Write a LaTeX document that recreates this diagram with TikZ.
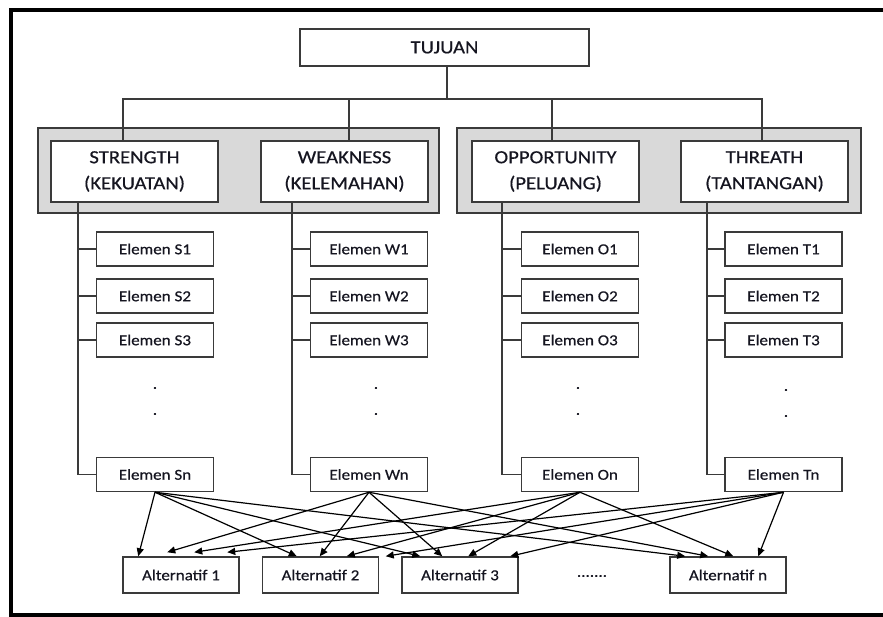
\documentclass[tikz,border=0pt]{standalone}
\usepackage{fontspec}
\setmainfont{Carlito}[FakeStretch=1.12,FakeBold=0.5]
\usetikzlibrary{arrows.meta,calc}
\definecolor{txt}{HTML}{151520}
\definecolor{ln}{HTML}{3A3A3A}
\definecolor{grayfill}{HTML}{D9D9D9}
\begin{document}
\begin{tikzpicture}[x=1pt,y=-1pt,
 box/.style={draw=ln,line width=1.5pt,fill=white,inner sep=0pt,text=txt},
 head/.style={box,minimum width=167pt,minimum height=61pt,align=center,font=\fontsize{18.5}{26}\selectfont},
 elem/.style={box,minimum width=117pt,minimum height=34pt,font=\fontsize{15.2}{18}\selectfont},
 alt/.style={box,minimum width=116pt,minimum height=36pt,font=\fontsize{15.2}{18}\selectfont},
 grp/.style={draw=ln,line width=1.5pt,fill=grayfill},
 conn/.style={draw=ln,line width=1.4pt},
 arr/.style={draw=black,line width=1.2pt,-{Triangle[length=8pt,width=7pt]}},
 dotnode/.style={text=txt,font=\fontsize{15.2}{18}\selectfont,inner sep=0pt}]
\useasboundingbox (0,0) rectangle (883,617);
% outer frame
\draw[line width=3.5pt] (890,10) -- (11,10) -- (11,615) -- (890,615);
% group panels
\draw[grp] (38,128) rectangle (439,213);
\draw[grp] (457,128) rectangle (861,213);
% goal
\node[box,minimum width=289pt,minimum height=37pt,font=\fontsize{18.5}{22}\selectfont] (goal) at (444.5,47.5) {TUJUAN};
% headers
\node[head] (S) at (134.5,171.5) {STRENGTH\\(KEKUATAN)};
\node[head] (W) at (344.5,171.5) {WEAKNESS\\(KELEMAHAN)};
\node[head] (O) at (555.5,171.5) {OPPORTUNITY\\(PELUANG)};
\node[head] (T) at (764.5,171.5) {THREATH\\(TANTANGAN)};
% elements
\foreach \c/\x in {S/155,W/369,O/580,T/783.5}{
  \node[elem] (\c1) at (\x,249) {Elemen \c1};
  \node[elem] (\c2) at (\x,296) {Elemen \c2};
  \node[elem] (\c3) at (\x,340) {Elemen \c3};
  \node[elem] (\c n) at (\x,474.5) {Elemen \c n};
}
\node[dotnode] (dS1) at (155,388) {.};
\node[dotnode] (dS2) at (155,414) {.};
\node[dotnode] (dW1) at (376,388) {.};
\node[dotnode] (dW2) at (376,414) {.};
\node[dotnode] (dO1) at (578,388) {.};
\node[dotnode] (dO2) at (578,414) {.};
\node[dotnode] (dT1) at (786,390) {.};
\node[dotnode] (dT2) at (786,416) {.};
% alternatives
\node[alt] (A1) at (181,575) {Alternatif 1};
\node[alt] (A2) at (320.5,575) {Alternatif 2};
\node[alt] (A3) at (460,575) {Alternatif 3};
\node[alt] (An) at (728,575) {Alternatif n};
\node[dotnode] (ell) at (592,576) {.......};
% top connectors
\coordinate (bus) at (447,99);
\coordinate (dxS) at (123,0);
\coordinate (dxW) at (349,0);
\coordinate (dxO) at (552,0);
\coordinate (dxT) at (762,0);
\draw[conn] (goal.south -| bus) -- (bus);
\draw[conn] (S.north -| dxS) -- (bus -| dxS) -- (bus -| dxT) -- (T.north -| dxT);
\draw[conn] (W.north -| dxW) -- (bus -| dxW);
\draw[conn] (O.north -| dxO) -- (bus -| dxO);
% vertical element connectors
\foreach \c/\x in {S/78,W/292,O/502,T/707}{
  \coordinate (v\c) at (\x,0);
  \draw[conn] (\c.south -| v\c) |- (\c n.west);
  \draw[conn] (\c1.west -| v\c) -- (\c1.west);
  \draw[conn] (\c2.west -| v\c) -- (\c2.west);
  \draw[conn] (\c3.west -| v\c) -- (\c3.west);
}
% arrows to alternatives
\draw[arr] (Sn.south) -- ($(A1.north west)+(16,0)$);
\draw[arr] (Wn.south) -- ($(A1.north west)+(45,-4)$);
\draw[arr] (On.south) -- ($(A1.north west)+(72,-4)$);
\draw[arr] (Tn.south) -- ($(A1.north west)+(105,-4)$);
\draw[arr] (Sn.south) -- ($(A2.north west)+(35,0)$);
\draw[arr] (Wn.south) -- ($(A2.north west)+(58,0)$);
\draw[arr] (On.south) -- ($(A2.north west)+(85,0)$);
\draw[arr] (Tn.south) -- ($(A2.north west)+(124,0)$);
\draw[arr] (Sn.south) -- ($(A3.north west)+(19,0)$);
\draw[arr] (Wn.south) -- ($(A3.north west)+(41,0)$);
\draw[arr] (On.south) -- ($(A3.north west)+(67,0)$);
\draw[arr] (Tn.south) -- ($(A3.north west)+(109,0)$);
\draw[arr] (Sn.south) -- ($(An.north west)+(16,0)$);
\draw[arr] (Wn.south) -- ($(An.north west)+(39,0)$);
\draw[arr] (On.south) -- ($(An.north west)+(64,0)$);
\draw[arr] (Tn.south) -- ($(An.north west)+(89,0)$);
\end{tikzpicture}
\end{document}
